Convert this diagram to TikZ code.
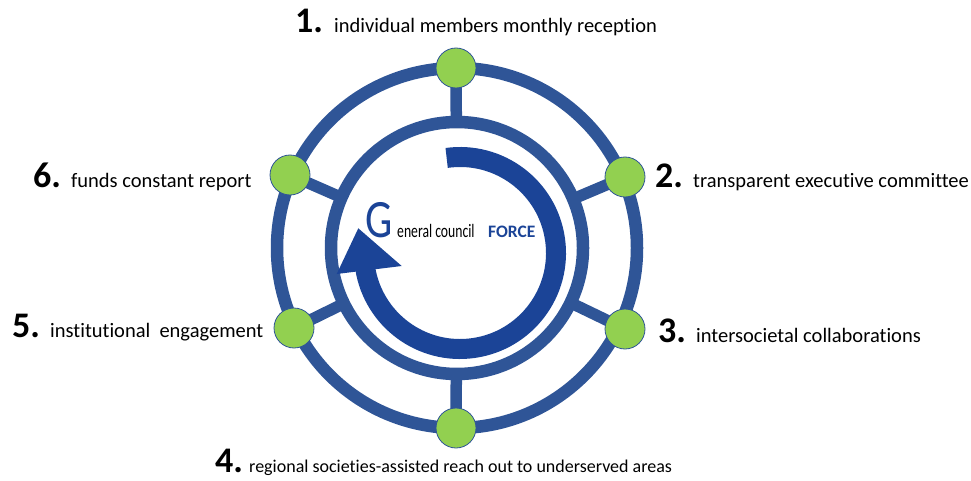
\documentclass[tikz,border=0pt]{standalone}
\usepackage{fontspec}
\usepackage{graphicx}
\setmainfont{Carlito}[Ligatures=NoCommon]
\usetikzlibrary{calc,backgrounds}
\definecolor{ringblue}{HTML}{2F5597}
\definecolor{arrowblue}{HTML}{1B4497}
\definecolor{nodegreen}{HTML}{92D050}
\begin{document}
\begin{tikzpicture}[x=1pt,y=1pt,
  ring/.style={draw=ringblue,line width=12.5pt},
  spoke/.style={draw=ringblue,line width=11.5pt},
  hub/.style={circle,fill=nodegreen,draw=ringblue,line width=0.8pt,minimum size=40pt,inner sep=0pt},
  num/.style={font=\fontsize{36}{36}\selectfont\bfseries,anchor=base west,inner sep=0pt},
  lab/.style={font=\fontsize{20.5}{20.5}\selectfont,anchor=base west,inner sep=0pt}]
\useasboundingbox (0,0) rectangle (971,480);
\coordinate (O) at (457,232);
% hubs
\node[hub] (n1) at (456,412) {};
\node[hub] (n2) at (625,303) {};
\node[hub] (n3) at (625,151) {};
\node[hub] (n4) at (456,52) {};
\node[hub] (n5) at (294,152) {};
\node[hub] (n6) at (290,305) {};
\begin{scope}[on background layer]
\draw[ring] (O) circle[radius=180];
\draw[ring] (O) circle[radius=126];
\foreach \i in {1,...,6}{
  \coordinate (s\i) at ($(O)!126pt!(n\i.center)$);
  \draw[spoke] (n\i.center) -- (s\i);
}
\end{scope}
% central arrow
\coordinate (A) at (460,227);
\draw[arrowblue,line width=20pt] ($(A)+(98:96)$) arc[start angle=98,end angle=-171,radius=96];
\fill[arrowblue] (336.7,206) -- (358.3,251.7) -- (401.7,214) -- cycle;
% title
\node[anchor=base west,inner sep=0pt,text=arrowblue,font=\fontsize{54}{54}\selectfont] (tg) at (365,243) {\scalebox{0.8}[1]{G}};
\node[anchor=base west,inner sep=0pt,font=\fontsize{19}{19}\selectfont] (tc) at (397,243) {\scalebox{0.72}[1]{eneral council}};
\node[anchor=base west,inner sep=0pt,text=arrowblue,font=\fontsize{17.5}{17.5}\selectfont\bfseries] (tf) at (488,243) {FORCE};
% labels
\node[num] (k1) at (295,447) {1.};
\node[lab] (l1) at (334,447) {individual members monthly reception};
\node[num] (k2) at (655,293) {2.};
\node[lab] (l2) at (693,293) {transparent executive committee};
\node[num] (k3) at (658,138) {3.};
\node[lab] (l3) at (696,138) {intersocietal collaborations};
\node[num] (k4) at (215,8) {4.};
\node[lab,font=\fontsize{18}{18}\selectfont] (l4) at (249,8) {regional societies-assisted reach out to underserved areas};
\node[num] (k5) at (12,143) {5.};
\node[lab] (l5) at (50,143) {institutional\ \ engagement};
\node[num] (k6) at (33,293) {6.};
\node[lab] (l6) at (71,293) {funds constant report};
\end{tikzpicture}
\end{document}
